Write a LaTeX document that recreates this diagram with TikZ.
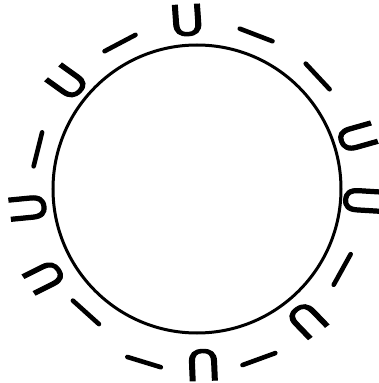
\documentclass[tikz,border=0pt]{standalone}
\usepackage{fontspec}
\newfontfamily\ufont[FakeBold=2.5]{DejaVu Sans}
\begin{document}
\begin{tikzpicture}[x=1pt,y=1pt,
  ring/.style={line width=3pt},
  tick/.style={line width=4.6pt,line cap=round},
  uletter/.style={inner sep=0pt,font=\ufont\fontsize{42}{42}\selectfont,xscale=1.15}]
\useasboundingbox (-197,-194) rectangle (182,189);
\draw[ring] (0,0) coordinate (c) circle (144);
% U letters: (angle, radius)
\foreach \a/\r [count=\i] in {93.4/169, 140.5/168, 186.4/170, 210/176, 272/176, 310/171, 356/165, 18/168}
  \node[uletter,rotate=\a-90] (u\i) at (\a:\r) {U};
% dashes
\foreach \a/\r in {117.8/165, 166/164, 228/166, 253/181, 290/181, 331/166, 43/165, 69/165}
  \draw[tick,rotate=\a] (\r,-17.5) -- (\r,17.5);
\end{tikzpicture}
\end{document}
